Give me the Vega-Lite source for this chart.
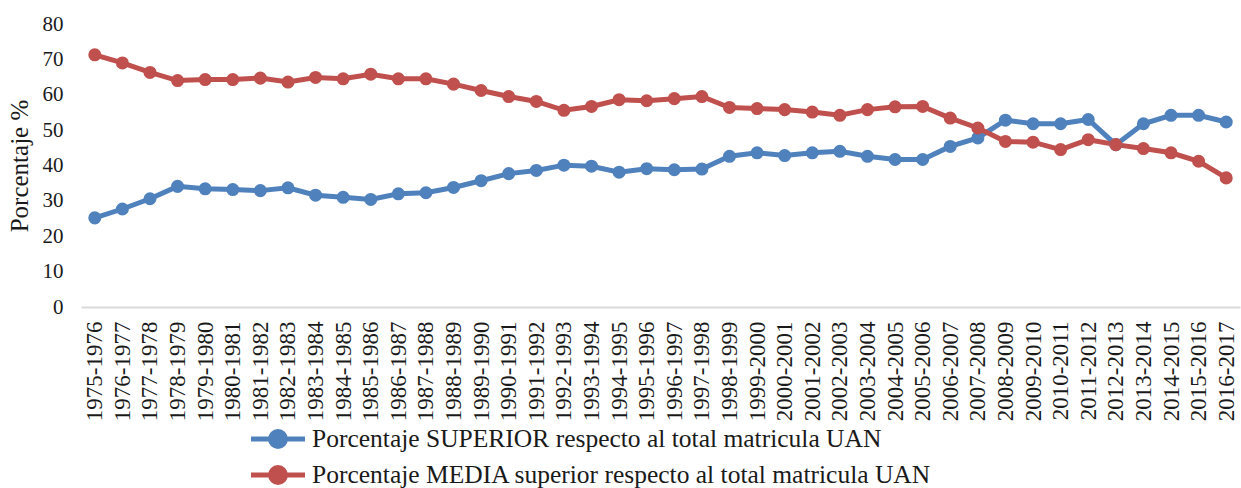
{
  "$schema": "https://vega.github.io/schema/vega-lite/v6.json",
  "width": 1159,
  "height": 283,
  "autosize": {"type": "none"},
  "padding": {"left": 81, "top": 24, "right": 1, "bottom": 181},
  "background": "white",
  "config": {
    "view": {"stroke": null},
    "font": "Times New Roman, Liberation Serif, serif"
  },
  "data": {
    "values": [
      {"periodo": "1975-1976", "serie": "Porcentaje SUPERIOR respecto al total matricula UAN", "valor": 25.2},
      {"periodo": "1976-1977", "serie": "Porcentaje SUPERIOR respecto al total matricula UAN", "valor": 27.7},
      {"periodo": "1977-1978", "serie": "Porcentaje SUPERIOR respecto al total matricula UAN", "valor": 30.6},
      {"periodo": "1978-1979", "serie": "Porcentaje SUPERIOR respecto al total matricula UAN", "valor": 34.1},
      {"periodo": "1979-1980", "serie": "Porcentaje SUPERIOR respecto al total matricula UAN", "valor": 33.4},
      {"periodo": "1980-1981", "serie": "Porcentaje SUPERIOR respecto al total matricula UAN", "valor": 33.2},
      {"periodo": "1981-1982", "serie": "Porcentaje SUPERIOR respecto al total matricula UAN", "valor": 32.9},
      {"periodo": "1982-1983", "serie": "Porcentaje SUPERIOR respecto al total matricula UAN", "valor": 33.7},
      {"periodo": "1983-1984", "serie": "Porcentaje SUPERIOR respecto al total matricula UAN", "valor": 31.6},
      {"periodo": "1984-1985", "serie": "Porcentaje SUPERIOR respecto al total matricula UAN", "valor": 31.0},
      {"periodo": "1985-1986", "serie": "Porcentaje SUPERIOR respecto al total matricula UAN", "valor": 30.4},
      {"periodo": "1986-1987", "serie": "Porcentaje SUPERIOR respecto al total matricula UAN", "valor": 32.0},
      {"periodo": "1987-1988", "serie": "Porcentaje SUPERIOR respecto al total matricula UAN", "valor": 32.3},
      {"periodo": "1988-1989", "serie": "Porcentaje SUPERIOR respecto al total matricula UAN", "valor": 33.8},
      {"periodo": "1989-1990", "serie": "Porcentaje SUPERIOR respecto al total matricula UAN", "valor": 35.7},
      {"periodo": "1990-1991", "serie": "Porcentaje SUPERIOR respecto al total matricula UAN", "valor": 37.7},
      {"periodo": "1991-1992", "serie": "Porcentaje SUPERIOR respecto al total matricula UAN", "valor": 38.6},
      {"periodo": "1992-1993", "serie": "Porcentaje SUPERIOR respecto al total matricula UAN", "valor": 40.1},
      {"periodo": "1993-1994", "serie": "Porcentaje SUPERIOR respecto al total matricula UAN", "valor": 39.8},
      {"periodo": "1994-1995", "serie": "Porcentaje SUPERIOR respecto al total matricula UAN", "valor": 38.1},
      {"periodo": "1995-1996", "serie": "Porcentaje SUPERIOR respecto al total matricula UAN", "valor": 39.1},
      {"periodo": "1996-1997", "serie": "Porcentaje SUPERIOR respecto al total matricula UAN", "valor": 38.8},
      {"periodo": "1997-1998", "serie": "Porcentaje SUPERIOR respecto al total matricula UAN", "valor": 39.0},
      {"periodo": "1998-1999", "serie": "Porcentaje SUPERIOR respecto al total matricula UAN", "valor": 42.6},
      {"periodo": "1999-2000", "serie": "Porcentaje SUPERIOR respecto al total matricula UAN", "valor": 43.6},
      {"periodo": "2000-2001", "serie": "Porcentaje SUPERIOR respecto al total matricula UAN", "valor": 42.8},
      {"periodo": "2001-2002", "serie": "Porcentaje SUPERIOR respecto al total matricula UAN", "valor": 43.6},
      {"periodo": "2002-2003", "serie": "Porcentaje SUPERIOR respecto al total matricula UAN", "valor": 44.0},
      {"periodo": "2003-2004", "serie": "Porcentaje SUPERIOR respecto al total matricula UAN", "valor": 42.6},
      {"periodo": "2004-2005", "serie": "Porcentaje SUPERIOR respecto al total matricula UAN", "valor": 41.7},
      {"periodo": "2005-2006", "serie": "Porcentaje SUPERIOR respecto al total matricula UAN", "valor": 41.7},
      {"periodo": "2006-2007", "serie": "Porcentaje SUPERIOR respecto al total matricula UAN", "valor": 45.4},
      {"periodo": "2007-2008", "serie": "Porcentaje SUPERIOR respecto al total matricula UAN", "valor": 47.8},
      {"periodo": "2008-2009", "serie": "Porcentaje SUPERIOR respecto al total matricula UAN", "valor": 52.8},
      {"periodo": "2009-2010", "serie": "Porcentaje SUPERIOR respecto al total matricula UAN", "valor": 51.8},
      {"periodo": "2010-2011", "serie": "Porcentaje SUPERIOR respecto al total matricula UAN", "valor": 51.8},
      {"periodo": "2011-2012", "serie": "Porcentaje SUPERIOR respecto al total matricula UAN", "valor": 53.0},
      {"periodo": "2012-2013", "serie": "Porcentaje SUPERIOR respecto al total matricula UAN", "valor": 45.9},
      {"periodo": "2013-2014", "serie": "Porcentaje SUPERIOR respecto al total matricula UAN", "valor": 51.8},
      {"periodo": "2014-2015", "serie": "Porcentaje SUPERIOR respecto al total matricula UAN", "valor": 54.2},
      {"periodo": "2015-2016", "serie": "Porcentaje SUPERIOR respecto al total matricula UAN", "valor": 54.2},
      {"periodo": "2016-2017", "serie": "Porcentaje SUPERIOR respecto al total matricula UAN", "valor": 52.3},
      {"periodo": "1975-1976", "serie": "Porcentaje MEDIA superior respecto al total matricula UAN", "valor": 71.3},
      {"periodo": "1976-1977", "serie": "Porcentaje MEDIA superior respecto al total matricula UAN", "valor": 69.0},
      {"periodo": "1977-1978", "serie": "Porcentaje MEDIA superior respecto al total matricula UAN", "valor": 66.3},
      {"periodo": "1978-1979", "serie": "Porcentaje MEDIA superior respecto al total matricula UAN", "valor": 64.0},
      {"periodo": "1979-1980", "serie": "Porcentaje MEDIA superior respecto al total matricula UAN", "valor": 64.3},
      {"periodo": "1980-1981", "serie": "Porcentaje MEDIA superior respecto al total matricula UAN", "valor": 64.3},
      {"periodo": "1981-1982", "serie": "Porcentaje MEDIA superior respecto al total matricula UAN", "valor": 64.7},
      {"periodo": "1982-1983", "serie": "Porcentaje MEDIA superior respecto al total matricula UAN", "valor": 63.6},
      {"periodo": "1983-1984", "serie": "Porcentaje MEDIA superior respecto al total matricula UAN", "valor": 64.9},
      {"periodo": "1984-1985", "serie": "Porcentaje MEDIA superior respecto al total matricula UAN", "valor": 64.5},
      {"periodo": "1985-1986", "serie": "Porcentaje MEDIA superior respecto al total matricula UAN", "valor": 65.8},
      {"periodo": "1986-1987", "serie": "Porcentaje MEDIA superior respecto al total matricula UAN", "valor": 64.5},
      {"periodo": "1987-1988", "serie": "Porcentaje MEDIA superior respecto al total matricula UAN", "valor": 64.5},
      {"periodo": "1988-1989", "serie": "Porcentaje MEDIA superior respecto al total matricula UAN", "valor": 63.0},
      {"periodo": "1989-1990", "serie": "Porcentaje MEDIA superior respecto al total matricula UAN", "valor": 61.2},
      {"periodo": "1990-1991", "serie": "Porcentaje MEDIA superior respecto al total matricula UAN", "valor": 59.5},
      {"periodo": "1991-1992", "serie": "Porcentaje MEDIA superior respecto al total matricula UAN", "valor": 58.1},
      {"periodo": "1992-1993", "serie": "Porcentaje MEDIA superior respecto al total matricula UAN", "valor": 55.6},
      {"periodo": "1993-1994", "serie": "Porcentaje MEDIA superior respecto al total matricula UAN", "valor": 56.7},
      {"periodo": "1994-1995", "serie": "Porcentaje MEDIA superior respecto al total matricula UAN", "valor": 58.6},
      {"periodo": "1995-1996", "serie": "Porcentaje MEDIA superior respecto al total matricula UAN", "valor": 58.3},
      {"periodo": "1996-1997", "serie": "Porcentaje MEDIA superior respecto al total matricula UAN", "valor": 58.9},
      {"periodo": "1997-1998", "serie": "Porcentaje MEDIA superior respecto al total matricula UAN", "valor": 59.5},
      {"periodo": "1998-1999", "serie": "Porcentaje MEDIA superior respecto al total matricula UAN", "valor": 56.4},
      {"periodo": "1999-2000", "serie": "Porcentaje MEDIA superior respecto al total matricula UAN", "valor": 56.1},
      {"periodo": "2000-2001", "serie": "Porcentaje MEDIA superior respecto al total matricula UAN", "valor": 55.8},
      {"periodo": "2001-2002", "serie": "Porcentaje MEDIA superior respecto al total matricula UAN", "valor": 55.1},
      {"periodo": "2002-2003", "serie": "Porcentaje MEDIA superior respecto al total matricula UAN", "valor": 54.2},
      {"periodo": "2003-2004", "serie": "Porcentaje MEDIA superior respecto al total matricula UAN", "valor": 55.8},
      {"periodo": "2004-2005", "serie": "Porcentaje MEDIA superior respecto al total matricula UAN", "valor": 56.6},
      {"periodo": "2005-2006", "serie": "Porcentaje MEDIA superior respecto al total matricula UAN", "valor": 56.7},
      {"periodo": "2006-2007", "serie": "Porcentaje MEDIA superior respecto al total matricula UAN", "valor": 53.4},
      {"periodo": "2007-2008", "serie": "Porcentaje MEDIA superior respecto al total matricula UAN", "valor": 50.6},
      {"periodo": "2008-2009", "serie": "Porcentaje MEDIA superior respecto al total matricula UAN", "valor": 46.8},
      {"periodo": "2009-2010", "serie": "Porcentaje MEDIA superior respecto al total matricula UAN", "valor": 46.6},
      {"periodo": "2010-2011", "serie": "Porcentaje MEDIA superior respecto al total matricula UAN", "valor": 44.5},
      {"periodo": "2011-2012", "serie": "Porcentaje MEDIA superior respecto al total matricula UAN", "valor": 47.3},
      {"periodo": "2012-2013", "serie": "Porcentaje MEDIA superior respecto al total matricula UAN", "valor": 45.9},
      {"periodo": "2013-2014", "serie": "Porcentaje MEDIA superior respecto al total matricula UAN", "valor": 44.8},
      {"periodo": "2014-2015", "serie": "Porcentaje MEDIA superior respecto al total matricula UAN", "valor": 43.6},
      {"periodo": "2015-2016", "serie": "Porcentaje MEDIA superior respecto al total matricula UAN", "valor": 41.2},
      {"periodo": "2016-2017", "serie": "Porcentaje MEDIA superior respecto al total matricula UAN", "valor": 36.5}
    ]
  },
  "encoding": {
    "x": {
      "field": "periodo",
      "type": "ordinal",
      "sort": null,
      "scale": {"type": "point", "padding": 0.5},
      "axis": {
        "title": null,
        "labelAngle": -90,
        "labelFont": "Times New Roman, Liberation Serif, serif",
        "labelFontSize": 23,
        "labelColor": "#1a1a1a",
        "labelPadding": 14,
        "ticks": false,
        "domainColor": "#d9d9d9",
        "domainWidth": 2,
        "grid": false
      }
    },
    "y": {
      "field": "valor",
      "type": "quantitative",
      "scale": {"domain": [0, 80], "nice": false, "zero": true},
      "axis": {
        "title": "Porcentaje %",
        "titleFont": "Times New Roman, Liberation Serif, serif",
        "titleFontSize": 25,
        "titleFontWeight": "normal",
        "titleColor": "#1a1a1a",
        "titlePadding": 10,
        "values": [0, 10, 20, 30, 40, 50, 60, 70, 80],
        "labelFont": "Times New Roman, Liberation Serif, serif",
        "labelFontSize": 21,
        "labelColor": "#1a1a1a",
        "labelPadding": 18,
        "ticks": false,
        "domain": false,
        "grid": false
      }
    },
    "color": {
      "field": "serie",
      "type": "nominal",
      "sort": null,
      "scale": {
        "domain": ["Porcentaje SUPERIOR respecto al total matricula UAN", "Porcentaje MEDIA superior respecto al total matricula UAN"],
        "range": ["#4F81BD", "#C0504D"]
      },
      "legend": {
        "title": null,
        "orient": "none",
        "legendX": 181,
        "legendY": 399,
        "direction": "vertical",
        "padding": 0,
        "symbolType": "M-2,0H2M-0.55,0A0.55,0.55 0 1,0 0.55,0A0.55,0.55 0 1,0 -0.55,0",
        "symbolSize": 729,
        "symbolStrokeWidth": 5,
        "symbolOpacity": 1,
        "labelFont": "Times New Roman, Liberation Serif, serif",
        "labelFontSize": 25.5,
        "labelColor": "#1a1a1a",
        "labelOffset": 18,
        "labelLimit": 1000,
        "rowPadding": 0,
        "encode": {
          "symbols": {
            "update": {
              "fill": {"scale": "color", "field": "value"},
              "stroke": {"scale": "color", "field": "value"}
            }
          }
        }
      }
    }
  },
  "layer": [
    {"mark": {"type": "line", "strokeWidth": 5}},
    {"mark": {"type": "point", "filled": true, "size": 170, "opacity": 1, "shape": "circle"}}
  ]
}
